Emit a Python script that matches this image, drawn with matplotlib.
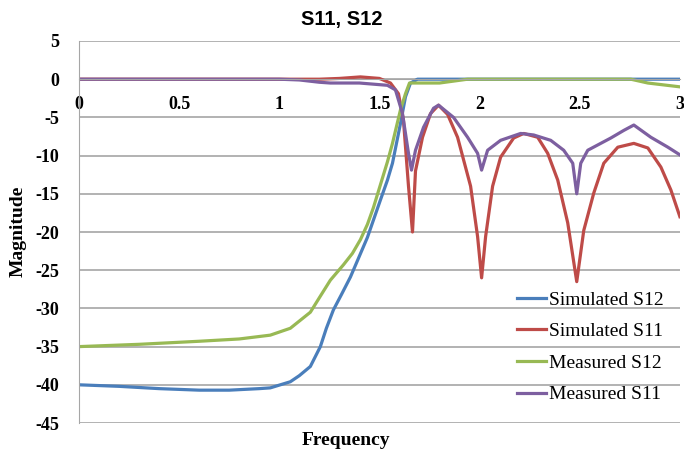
import matplotlib
matplotlib.use('Agg')
import matplotlib.pyplot as plt

plt.rcParams['axes.unicode_minus'] = False

# Simulated S12 (bleu)
x_sim12 = [0, 0.2, 0.4, 0.6, 0.75, 0.9, 0.955, 1.055, 1.1, 1.155, 1.205, 1.235, 1.27, 1.31, 1.355, 1.44, 1.505, 1.54, 1.565, 1.605, 1.63, 1.655, 1.69, 1.8, 2.0, 2.5, 3.0]
y_sim12 = [-40, -40.2, -40.5, -40.7, -40.7, -40.5, -40.4, -39.6, -38.8, -37.6, -35.0, -32.6, -30.2, -28.2, -25.9, -20.7, -15.8, -13.2, -11.0, -5.8, -2.3, -0.5, 0, 0, 0, 0, 0]

# Simulated S11 (rouge)
x_sim11 = [0, 0.5, 1.0, 1.2, 1.3, 1.405, 1.5, 1.555, 1.595, 1.62, 1.645, 1.665, 1.68, 1.715, 1.755, 1.795,
           1.84, 1.89, 1.955, 1.99, 2.01, 2.03, 2.065, 2.105, 2.17, 2.22, 2.29, 2.34, 2.39, 2.44, 2.485,
           2.52, 2.57, 2.62, 2.69, 2.77, 2.84, 2.905, 2.955, 3.0]
y_sim11 = [0, 0, 0, 0, 0.1, 0.3, 0.1, -0.5, -1.9, -5.4, -14, -20, -12, -7.6, -4.5, -3.4,
           -4.6, -7.6, -14, -20.6, -26, -20.6, -14, -10.2, -7.7, -7.1, -7.6, -9.7, -13.2, -18.8, -26.5,
           -19.8, -14.9, -11, -8.9, -8.4, -9.0, -11.5, -14.5, -18]

# Measured S12 (vert)
x_mes12 = [0, 0.3, 0.6, 0.8, 0.955, 1.055, 1.155, 1.2, 1.255, 1.32, 1.365, 1.405, 1.44, 1.47, 1.505, 1.54, 1.565, 1.605, 1.63, 1.65,
           1.8, 1.94, 2.3, 2.755, 2.84, 3.0]
y_mes12 = [-35, -34.7, -34.3, -34.0, -33.5, -32.6, -30.5, -28.6, -26.3, -24.3, -22.8, -21.0, -19.0, -16.8, -13.8, -10.8, -8.4, -4.0, -1.9, -0.5,
           -0.5, 0, 0, 0, -0.5, -1.0]

# Measured S11 (violet)
x_mes11 = [0, 0.5, 1.0, 1.1, 1.2, 1.255, 1.4, 1.54, 1.58, 1.615, 1.645, 1.66, 1.68, 1.72, 1.77, 1.795,
           1.87, 1.94, 1.99, 2.01, 2.04, 2.105, 2.205, 2.27, 2.355, 2.42, 2.465, 2.485, 2.505, 2.54,
           2.655, 2.72, 2.77, 2.855, 2.94, 3.0]
y_mes11 = [0, 0, 0, -0.1, -0.4, -0.5, -0.5, -0.8, -1.4, -4.5, -9.7, -11.9, -9.3, -6.3, -3.8, -3.4,
           -5.0, -7.6, -9.7, -11.9, -9.3, -8.0, -7.1, -7.3, -8.0, -9.3, -11.0, -15.0, -11.0, -9.3,
           -7.7, -6.7, -6.0, -7.6, -8.9, -9.9]

fig = plt.figure(figsize=(6.84, 4.53), dpi=100)
ax = fig.add_axes([0.1155, 0.0662, 0.8785, 0.8433])

lw = 2.3
ax.plot(x_sim12, y_sim12, color='#4a7ebb', lw=lw, label='Simulated S12')
ax.plot(x_sim11, y_sim11, color='#be4b48', lw=lw, label='Simulated S11')
ax.plot(x_mes12, y_mes12, color='#98b954', lw=lw, label='Measured S12')
ax.plot(x_mes11, y_mes11, color='#7d5fa0', lw=lw, label='Measured S11')

ax.set_xlim(0, 3)
ax.set_ylim(-45, 5)
ax.set_yticks(range(-45, 10, 5))
ax.set_xticks([0, 0.5, 1, 1.5, 2, 2.5, 3])
ax.set_xticklabels(['0', '0.5', '1', '1.5', '2', '2.5', '3'])
ax.yaxis.grid(True, color='#a6a6a6', lw=1.2)
ax.set_axisbelow(True)

# axe horizontal qui croise en 0 (style Excel)
ax.spines['bottom'].set_position(('data', 0))
ax.spines['bottom'].set_color('#a6a6a6')
ax.spines['left'].set_color('#a6a6a6')
ax.spines['top'].set_visible(False)
ax.spines['right'].set_visible(False)
ax.tick_params(axis='both', length=0)
ax.tick_params(axis='x', pad=12)
ax.tick_params(axis='y', pad=14)

serif = 'Liberation Serif'
for lab in ax.get_xticklabels() + ax.get_yticklabels():
    lab.set_fontfamily(serif)
    lab.set_fontweight('bold')
    lab.set_fontsize(13)

fig.text(0.5, 0.956, 'S11, S12', ha='center', va='center', fontsize=14.5, fontweight='bold', family='Liberation Sans')
fig.text(0.505, 0.028, 'Frequency', ha='center', va='center', family=serif, fontweight='bold', fontsize=14)
fig.text(0.027, 0.49, 'Magnitude', ha='center', va='center', rotation=90, family=serif, fontweight='bold', fontsize=14)

leg = ax.legend(loc='upper left', bbox_to_anchor=(517 / 684, 1 - 291 / 453), bbox_transform=fig.transFigure,
                frameon=False, prop={'family': serif, 'size': 14}, handlelength=1.5, handletextpad=0.15,
                labelspacing=0.72, borderaxespad=0, borderpad=0)

fig.savefig('out.png', dpi=100)
